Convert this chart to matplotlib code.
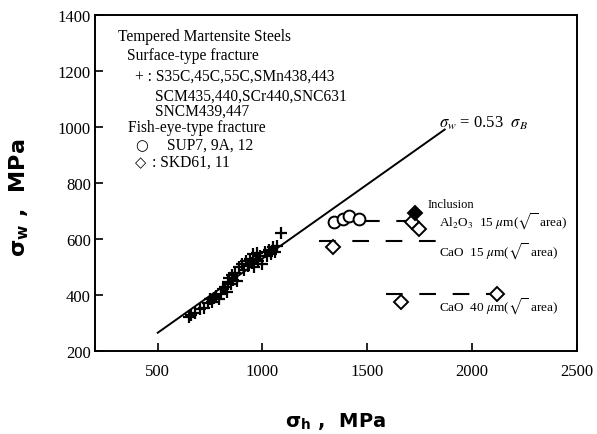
import numpy as np
import matplotlib.pyplot as plt

plt.rcParams['mathtext.fontset'] = 'stix'

# surface-type fracture (+)
sb_plus = [650, 660, 680, 700, 720, 740, 750, 760, 770, 780, 790, 800, 810, 820, 830,
           835, 840, 850, 855, 860, 870, 880, 890, 900, 910, 920, 930, 940, 950, 955,
           960, 970, 975, 980, 990, 1000, 1010, 1020, 1030, 1040, 1050, 1060, 1070, 1090]
sw_plus = [320, 330, 335, 350, 355, 370, 385, 375, 390, 395, 385, 405, 420, 430, 410,
           445, 460, 440, 470, 455, 480, 450, 500, 510, 490, 520, 505, 530, 515, 545,
           500, 530, 550, 520, 540, 510, 555, 540, 560, 545, 570, 555, 575, 620]

# fish-eye, SUP7, 9A, 12
sb_circ = [1341, 1385, 1413, 1462]
sw_circ = [661, 671, 682, 671]

# fish-eye, SKD61, 11
sb_dia = [1337, 1712, 1745, 1663, 2120]
sw_dia = [571, 661, 636, 375, 404]
sb_dia_dark = [1726]
sw_dia_dark = [694]

# inclusion size lines
incl_x = [[1480, 1790], [1270, 1860], [1590, 2150]]
incl_y = [664, 593, 404]

fit_x = np.array([500, 1870])

fig = plt.figure(figsize=(5.97, 4.35), dpi=100)
ax = fig.add_axes([0.159, 0.191, 0.807, 0.772])

ax.plot(fit_x, 0.53 * fit_x, color='k', lw=1.4)
ax.plot(sb_plus, sw_plus, '+', color='k', ms=9, mew=1.6)
for xx, yy in zip(incl_x, incl_y):
    ax.plot(xx, [yy, yy], color='k', lw=1.5, dashes=(8, 8))
ax.plot(sb_circ, sw_circ, 'o', mfc='white', mec='k', ms=8.5, mew=1.4)
ax.plot(sb_dia, sw_dia, 'D', mfc='white', mec='k', ms=7.5, mew=1.4)
ax.plot(sb_dia_dark, sw_dia_dark, 'D', mfc='k', mec='k', ms=7, mew=1.4)

ax.text(1841, 1018, r'$\sigma_w$ = 0.53  $\sigma_B$', family='Liberation Serif', fontsize=12, va='center')

serif = ['Liberation Serif', 'DejaVu Sans']
ax.text(1789, 725, 'Inclusion', family=serif, fontsize=9, va='center')
ax.text(1841, 664, r'Al$_2$O$_3$  15 $\mu$m($\sqrt{\ }$ area)', family=serif, fontsize=9.5, va='center')
ax.text(1841, 557, r'CaO  15 $\mu$m($\sqrt{\ }$ area)', family=serif, fontsize=9.5, va='center')
ax.text(1841, 361, r'CaO  40 $\mu$m($\sqrt{\ }$ area)', family=serif, fontsize=9.5, va='center')

legend_lines = [
    (308, 1325, 'Tempered Martensite Steels'),
    (351, 1257, 'Surface-type fracture'),
    (389, 1182, '+ : S35C,45C,55C,SMn438,443'),
    (486, 1112, 'SCM435,440,SCr440,SNC631'),
    (486, 1058, 'SNCM439,447'),
    (356, 1000, 'Fish-eye-type fracture'),
    (543, 936, 'SUP7, 9A, 12'),
    (471, 876, ': SKD61, 11'),
]
for lx, ly, s in legend_lines:
    ax.text(lx, ly, s, family=serif, fontsize=11.2, va='center')
ax.text(392, 938, u'\u25CB', family='DejaVu Sans', fontsize=10.5, va='center')
ax.text(392, 876, u'\u25C7', family='DejaVu Sans', fontsize=10.5, va='center')

ax.set_xlim(200, 2500)
ax.set_ylim(200, 1400)
ax.set_xticks([500, 1000, 1500, 2000, 2500])
ax.set_yticks([200, 400, 600, 800, 1000, 1200, 1400])
ax.tick_params(direction='in', length=6, width=1.2, labelsize=12, pad=3)
ax.tick_params(axis='x', pad=9)
for lab in ax.get_xticklabels() + ax.get_yticklabels():
    lab.set_family('Liberation Serif')
for sp in ax.spines.values():
    sp.set_linewidth(1.4)

ax.set_xlabel(r'σ$_{\mathregular{h}}$ ,  MPa', fontsize=14, fontweight='bold', labelpad=22)
ax.set_ylabel(r'σ$_{\mathregular{w}}$ ,  MPa', fontsize=16, fontweight='bold')
ax.yaxis.set_label_coords(-0.135, 0.46)

fig.savefig('out.png', dpi=100)
